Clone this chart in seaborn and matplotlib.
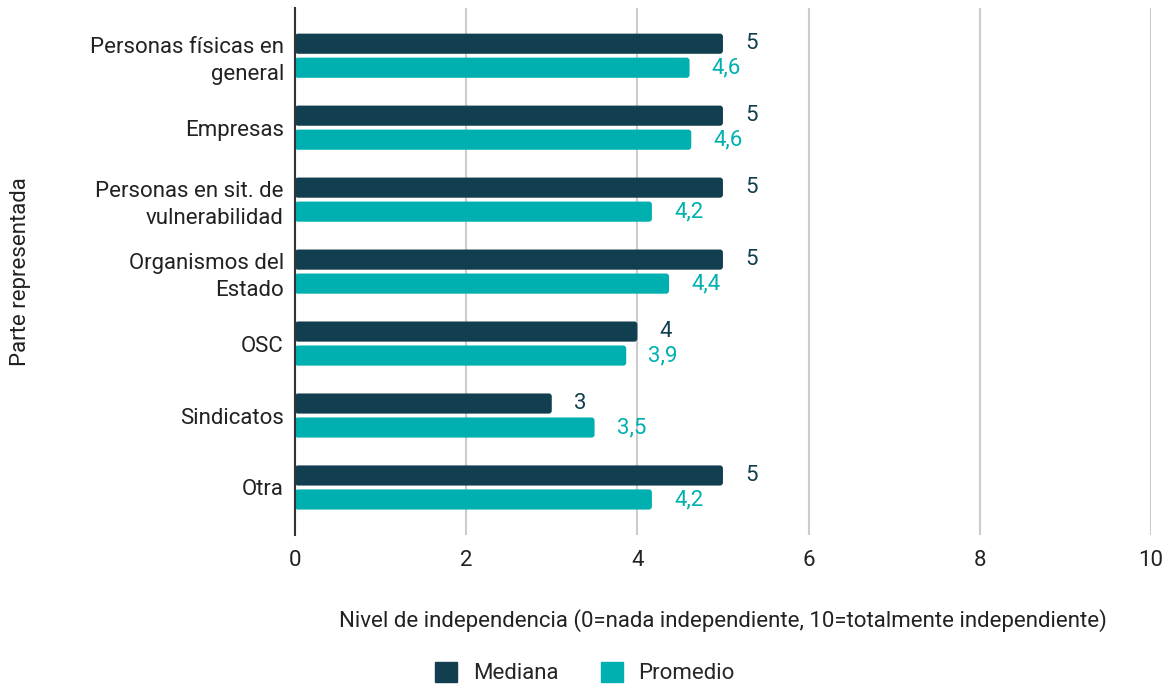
import matplotlib
matplotlib.use("Agg")
import matplotlib.pyplot as plt
from matplotlib.patches import FancyBboxPatch
import pandas as pd
import seaborn as sns

# Data
categorias = [
    "Personas físicas en\ngeneral",
    "Empresas",
    "Personas en sit. de\nvulnerabilidad",
    "Organismos del\nEstado",
    "OSC",
    "Sindicatos",
    "Otra",
]
mediana = [5, 5, 5, 5, 4, 3, 5]
promedio = [4.61, 4.63, 4.17, 4.37, 3.87, 3.5, 4.17]
series = ["Mediana", "Promedio"]
colores = ["#123F4F", "#00B0B0"]

df = pd.DataFrame({
    "categoria": categorias * 2,
    "serie": [series[0]] * len(categorias) + [series[1]] * len(categorias),
    "valor": mediana + promedio,
})

sns.set_theme(style="white")
plt.rcParams["font.family"] = ["Roboto", "DejaVu Sans"]
fs = 16

fig = plt.figure(figsize=(11.72, 6.85), dpi=100)
ax = fig.add_axes([0.2517, 0.219, 0.7303, 0.769])

sns.barplot(
    data=df, y="categoria", x="valor", hue="serie", orient="h",
    palette=colores, width=0.667, gap=0.16, errorbar=None,
    saturation=1, ax=ax, legend=False,
)

for cont, col in zip(ax.containers, colores):
    ax.bar_label(
        cont, labels=[f"{v.get_width():.1f}".replace(".", ",").replace(",0", "") for v in cont],
        padding=16, color=col, fontsize=fs,
    )

ax.set_xlim(0, 10)
ax.set_ylim(6.66, -0.66)

# rounded bar ends
for cont in ax.containers:
    for p in cont:
        x, y = p.get_x(), p.get_y()
        w, h = p.get_width(), p.get_height()
        rp = FancyBboxPatch((x, y), w, h, boxstyle="round,pad=0,rounding_size=0.035",
                            mutation_aspect=1.19, facecolor=p.get_facecolor(),
                            edgecolor="none", zorder=p.get_zorder())
        ax.add_patch(rp)
        p.set_visible(False)

ax.set_xticks([0, 2, 4, 6, 8, 10])
ax.xaxis.grid(True, color="#cccccc", linewidth=1.5)
ax.set_axisbelow(True)
for s in ["top", "right", "bottom"]:
    ax.spines[s].set_visible(False)
ax.spines["left"].set_color("#333333")
ax.spines["left"].set_linewidth(1.5)
ax.spines["left"].set_zorder(5)
ax.tick_params(axis="both", length=0, labelsize=fs, colors="#222222")
ax.tick_params(axis="x", pad=11)
ax.tick_params(axis="y", pad=8)
for t in ax.get_yticklabels():
    t.set_linespacing(1.35)
    t.set_horizontalalignment("right")
ax.set_xlabel("Nivel de independencia (0=nada independiente, 10=totalmente independiente)",
              fontsize=fs, color="#222222", va="center")
ax.xaxis.set_label_coords(0.5, -0.163)
ax.set_ylabel("Parte representada", fontsize=fs, color="#222222", va="center")
ax.yaxis.set_label_coords(-0.321, 0.5)

handles = [plt.Rectangle((0, 0), 1, 1, color=c) for c in colores]
fig.legend(handles, series, loc="center", ncol=2, frameon=False,
           fontsize=fs, bbox_to_anchor=(0.499, 0.0175), handlelength=1.0,
           handleheight=1.0, columnspacing=1.9, handletextpad=0.7)

fig.savefig("out.png", dpi=100)
